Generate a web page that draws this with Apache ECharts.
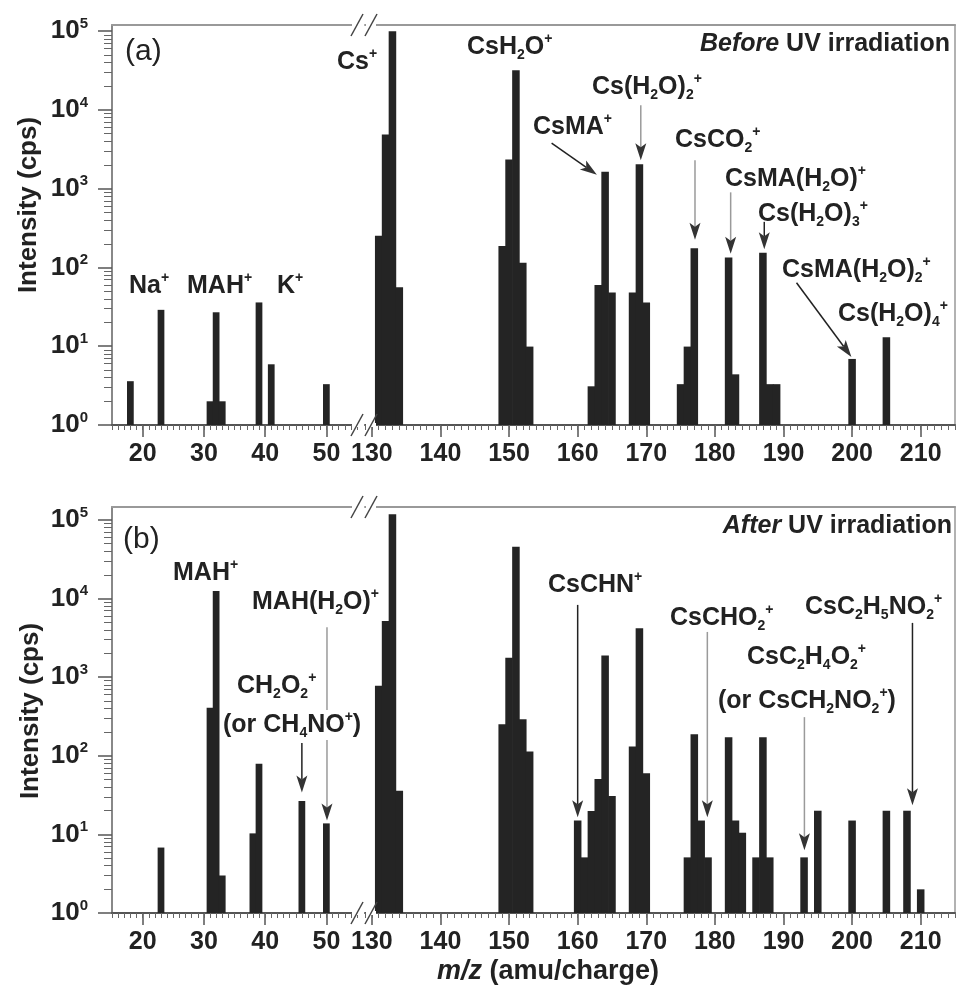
<!DOCTYPE html>
<html><head><meta charset="utf-8">
<script src="https://cdn.jsdelivr.net/npm/echarts@6/dist/echarts.min.js"></script>
<style>html,body{margin:0;padding:0;background:#fff}#c{width:957px;height:989px}</style>
</head><body><div id="c"></div>
<script>
// ---------------- data (m/z, intensity in cps) ----------------
const aLeftMz  = [18, 23, 31, 32, 33, 39, 41, 50];
const aLeftI   = [3.6, 29, 2.0, 27, 2.0, 36, 5.9, 3.3];
const aRightMz = [131, 132, 133, 134, 149, 150, 151, 152, 153, 162, 163, 164, 165, 168, 169, 170, 175, 176, 177, 182, 183, 187, 188, 189, 200, 205];
const aRightI  = [253, 4900, 100000, 56, 188, 2350, 32000, 115, 9.9, 3.1, 60, 1640, 48, 48, 2050, 36, 3.3, 9.9, 175, 134, 4.4, 154, 3.3, 3.3, 6.9, 13];
const bLeftMz  = [23, 31, 32, 33, 38, 39, 46, 50];
const bLeftI   = [6.8, 409, 12500, 3.0, 10.3, 79, 26.6, 13.8];
const bRightMz = [131, 132, 133, 134, 149, 150, 151, 152, 153, 160, 161, 162, 163, 164, 165, 168, 169, 170, 176, 177, 178, 179, 182, 183, 184, 186, 187, 188, 193, 195, 200, 205, 208, 210];
const bRightI  = [780, 5190, 118000, 36, 252, 1770, 45700, 291, 113, 15, 5.1, 19.9, 50.7, 1880, 30.8, 131, 4190, 60, 5.1, 188, 15, 5.1, 172, 15, 10.5, 5.1, 172, 5.1, 5.1, 20, 15, 20, 20, 2.0];

// tick labels
const leftTicks  = [20, 30, 40, 50];
const rightTicks = [130, 140, 150, 160, 170, 180, 190, 200, 210];
const yTickExp   = [0, 1, 2, 3, 4, 5];

// annotation arrows: [seriesIndex, x1, y1, x2(tip), y2(tip), line colour]
const arrows = [
  [1, 169.2, 11500, 169.2, 2300, 'gray'],   // Cs(H2O)2+
  [1, 156.2, 3800, 162.8, 1500, 'black'],   // CsMA+
  [1, 177.1, 2300, 177.1, 225, 'gray'],     // CsCO2+
  [1, 182.3, 900, 182.3, 150, 'gray'],      // CsMA(H2O)+
  [1, 187.2, 380, 187.2, 170, 'black'],     // Cs(H2O)3+
  [1, 191.9, 64, 199.9, 7.3, 'black'],      // CsMA(H2O)2+
  [2, 50.1, 4300, 50.1, 15, 'gray'],        // MAH(H2O)+
  [2, 46.0, 145, 46.0, 34, 'black'],        // CH2O2+
  [3, 160.0, 8300, 160.0, 16.5, 'black'],   // CsCHN+
  [3, 178.9, 3760, 178.9, 16.5, 'gray'],    // CsCHO2+
  [3, 193.05, 310, 193.05, 6.3, 'gray'],    // CsC2H4O2+
  [3, 208.8, 4900, 208.8, 23.5, 'black']    // CsC2H5NO2+
];

// ---------------- layout ----------------
const FONT = "'Liberation Sans', Arial, Helvetica, sans-serif";
const grids = [
  {left: 112, top: 25, width: 245, height: 400},
  {left: 365, top: 25, width: 590, height: 400},
  {left: 112, top: 507, width: 245, height: 406},
  {left: 365, top: 507, width: 590, height: 406}
];
const xRange = [[15, 55], [129, 215], [15, 55], [129, 215]];
const yMax = [1.2e5, 1.2e5, 1.46e5, 1.46e5];
const seriesData = [[aLeftMz, aLeftI], [aRightMz, aRightI], [bLeftMz, bLeftI], [bRightMz, bRightI]];

function range(a, b) { const r = []; for (let i = a; i <= b; i++) r.push(i); return r; }
function minorLog(maxLog) {
  const r = [];
  for (let k = 0; k < 6; k++) for (let m = 2; m <= 9; m++) { const v = k + Math.log10(m); if (v <= maxLog) r.push(v); }
  return r;
}

const xAxis = [], yAxis = [], series = [];
grids.forEach((g, gi) => {
  const isLeft = gi % 2 === 0;
  const [xmin, xmax] = xRange[gi];
  const ticks = isLeft ? leftTicks : rightTicks;
  const xi = xAxis.length;
  xAxis.push({
    gridIndex: gi, type: 'value', position: 'bottom', min: xmin, max: xmax,
    axisLine: {onZero: false, lineStyle: {color: '#555', width: 2}},
    axisTick: {customValues: ticks, length: 12, lineStyle: {color: '#555', width: 1.5}},
    axisLabel: {customValues: ticks, margin: 17, fontSize: 25, fontWeight: 'bold', color: '#222', fontFamily: FONT},
    splitLine: {show: false}
  });
  xAxis.push({
    gridIndex: gi, type: 'value', position: 'bottom', min: xmin, max: xmax,
    axisLine: {show: false},
    axisTick: {customValues: range(Math.ceil(xmin), Math.floor(xmax)), length: 5, lineStyle: {color: '#666', width: 1}},
    axisLabel: {show: false}, splitLine: {show: false}
  });
  xAxis.push({
    gridIndex: gi, type: 'value', position: 'top', min: xmin, max: xmax,
    axisLine: {onZero: false, lineStyle: {color: '#999', width: 2}},
    axisTick: {show: false}, axisLabel: {show: false}, splitLine: {show: false}
  });
  const yi = yAxis.length;
  yAxis.push({gridIndex: gi, type: 'log', logBase: 10, min: 1, max: yMax[gi], show: false,
    axisLine: {onZero: false}, splitLine: {show: false}});
  const maxLog = Math.log10(yMax[gi]);
  if (isLeft) {
    yAxis.push({
      gridIndex: gi, type: 'value', position: 'left', min: 0, max: maxLog,
      axisLine: {onZero: false, lineStyle: {color: '#888', width: 2}},
      axisTick: {customValues: yTickExp, length: 14, lineStyle: {color: '#555', width: 1.5}},
      axisLabel: {
        customValues: yTickExp, margin: 24,
        formatter: v => '{b|10}{e|' + Math.round(v) + '}',
        rich: {
          b: {fontSize: 26, fontWeight: 'bold', fontFamily: FONT, color: '#222', lineHeight: 30},
          e: {fontSize: 15, fontWeight: 'bold', fontFamily: FONT, color: '#222', verticalAlign: 'top', lineHeight: 15}
        }
      },
      splitLine: {show: false}
    });
    yAxis.push({
      gridIndex: gi, type: 'value', position: 'left', min: 0, max: maxLog,
      axisLine: {show: false},
      axisTick: {customValues: minorLog(maxLog), length: 8, lineStyle: {color: '#666', width: 1}},
      axisLabel: {show: false}, splitLine: {show: false}
    });
  } else {
    yAxis.push({
      gridIndex: gi, type: 'value', position: 'right', min: 0, max: maxLog,
      axisLine: {onZero: false, lineStyle: {color: '#999', width: 1.5}},
      axisTick: {show: false}, axisLabel: {show: false}, splitLine: {show: false}
    });
  }
  const [mz, inten] = seriesData[gi];
  series.push({
    type: 'bar', xAxisIndex: xi, yAxisIndex: yi,
    data: mz.map((m, i) => [m, inten[i]]),
    barWidth: '110%',
    itemStyle: {color: '#242424'},
    emphasis: {disabled: true},
    silent: true
  });
});

const chart = echarts.init(document.getElementById('c'), null, {renderer: 'canvas'});
chart.setOption({
  animation: false,
  backgroundColor: '#fff',
  grid: grids,
  xAxis, yAxis, series
});

// ---------------- annotations ----------------
const RICH = {
  m: {fontSize: 25, fontWeight: 'bold', fontFamily: FONT, fill: '#222', lineHeight: 30},
  i: {fontSize: 25, fontWeight: 'bold', fontStyle: 'italic', fontFamily: FONT, fill: '#222', lineHeight: 30},
  s: {fontSize: 14, fontWeight: 'bold', fontFamily: FONT, fill: '#222', verticalAlign: 'bottom', lineHeight: 14},
  p: {fontSize: 14, fontWeight: 'bold', fontFamily: FONT, fill: '#222', verticalAlign: 'top', lineHeight: 14}
};
function txt(str, x, y, align, extra) {
  return {type: 'text', x: x, y: y, z: 20, silent: true,
    style: Object.assign({text: str, rich: RICH, align: align || 'left', verticalAlign: 'middle',
      fill: '#222', font: 'bold 25px ' + FONT}, extra || {})};
}
const graphics = [];

// arrows
arrows.forEach(a => {
  const p1 = chart.convertToPixel({seriesIndex: a[0]}, [a[1], a[2]]);
  const p2 = chart.convertToPixel({seriesIndex: a[0]}, [a[3], a[4]]);
  const dx = p2[0] - p1[0], dy = p2[1] - p1[1];
  const L = Math.hypot(dx, dy), ux = dx / L, uy = dy / L, nx = -uy, ny = ux;
  const hl = 17, hw = 5.5;
  const bx = p2[0] - ux * hl, by = p2[1] - uy * hl;
  graphics.push({type: 'line', z: 10, silent: true,
    shape: {x1: p1[0], y1: p1[1], x2: bx + ux * 4, y2: by + uy * 4},
    style: {stroke: a[5] === 'gray' ? '#9a9a9a' : '#222', lineWidth: 1.5}});
  graphics.push({type: 'polygon', z: 11, silent: true,
    shape: {points: [[p2[0], p2[1]], [bx + nx * hw, by + ny * hw], [bx + ux * 4, by + uy * 4], [bx - nx * hw, by - ny * hw]]},
    style: {fill: '#333'}});
});

// axis break marks
[[25, 425], [507, 913]].forEach(pair => pair.forEach(yy => {
  [357, 371].forEach(xx => {
    graphics.push({type: 'rect', z: 9, silent: true, shape: {x: xx - 5, y: yy - 2, width: 10, height: 4}, style: {fill: '#fff'}});
    graphics.push({type: 'line', z: 12, silent: true,
      shape: {x1: xx - 6, y1: yy + 11, x2: xx + 6, y2: yy - 11},
      style: {stroke: '#444', lineWidth: 1.5}});
  });
}));

// panel (a)
graphics.push(txt('(a)', 125, 52, 'left', {font: '30px ' + FONT, rich: null}));
graphics.push(txt('{m|Cs}{p|+}', 337, 62));
graphics.push(txt('{m|Na}{p|+}', 129, 286));
graphics.push(txt('{m|MAH}{p|+}', 187, 286));
graphics.push(txt('{m|K}{p|+}', 277, 286));
graphics.push(txt('{m|CsH}{s|2}{m|O}{p|+}', 467, 47));
graphics.push(txt('{i|Before}{m| UV irradiation}', 950, 44, 'right'));
graphics.push(txt('{m|Cs(H}{s|2}{m|O)}{s|2}{p|+}', 592, 87));
graphics.push(txt('{m|CsMA}{p|+}', 533, 127));
graphics.push(txt('{m|CsCO}{s|2}{p|+}', 675, 140));
graphics.push(txt('{m|CsMA(H}{s|2}{m|O)}{p|+}', 725, 179));
graphics.push(txt('{m|Cs(H}{s|2}{m|O)}{s|3}{p|+}', 758, 214));
graphics.push(txt('{m|CsMA(H}{s|2}{m|O)}{s|2}{p|+}', 782, 270));
graphics.push(txt('{m|Cs(H}{s|2}{m|O)}{s|4}{p|+}', 838, 314));

// panel (b)
graphics.push(txt('(b)', 123, 540, 'left', {font: '30px ' + FONT, rich: null}));
graphics.push(txt('{m|MAH}{p|+}', 173, 573));
graphics.push(txt('{m|MAH(H}{s|2}{m|O)}{p|+}', 252, 602));
graphics.push(txt('{m|CH}{s|2}{m|O}{s|2}{p|+}', 237, 686));
graphics.push(txt('{m|(or CH}{s|4}{m|NO}{p|+}{m|)}', 223, 725, 'left', {backgroundColor: '#fff'}));
graphics.push(txt('{m|CsCHN}{p|+}', 548, 585));
graphics.push(txt('{m|CsCHO}{s|2}{p|+}', 670, 618));
graphics.push(txt('{m|CsC}{s|2}{m|H}{s|4}{m|O}{s|2}{p|+}', 747, 657));
graphics.push(txt('{m|(or CsCH}{s|2}{m|NO}{s|2}{p|+}{m|)}', 718, 701));
graphics.push(txt('{m|CsC}{s|2}{m|H}{s|5}{m|NO}{s|2}{p|+}', 805, 607));
graphics.push(txt('{i|After}{m| UV irradiation}', 952, 526, 'right'));

// axis titles
const TITLE_RICH = {
  n: {fontSize: 27, fontWeight: 'bold', fontFamily: FONT, fill: '#222'},
  it: {fontSize: 27, fontWeight: 'bold', fontStyle: 'italic', fontFamily: FONT, fill: '#222'}
};
graphics.push({type: 'text', x: 548, y: 972, z: 20, silent: true,
  style: {text: '{it|m/z}{n| (amu/charge)}', rich: TITLE_RICH, align: 'center', verticalAlign: 'middle'}});
[[29, 205], [31, 711]].forEach(p => {
  graphics.push({type: 'text', x: p[0], y: p[1], rotation: Math.PI / 2, z: 20, silent: true,
    style: {text: 'Intensity (cps)', font: 'bold 26px ' + FONT, fill: '#222', align: 'center', verticalAlign: 'middle'}});
});

chart.setOption({graphic: {elements: graphics}});
</script>
</body></html>
